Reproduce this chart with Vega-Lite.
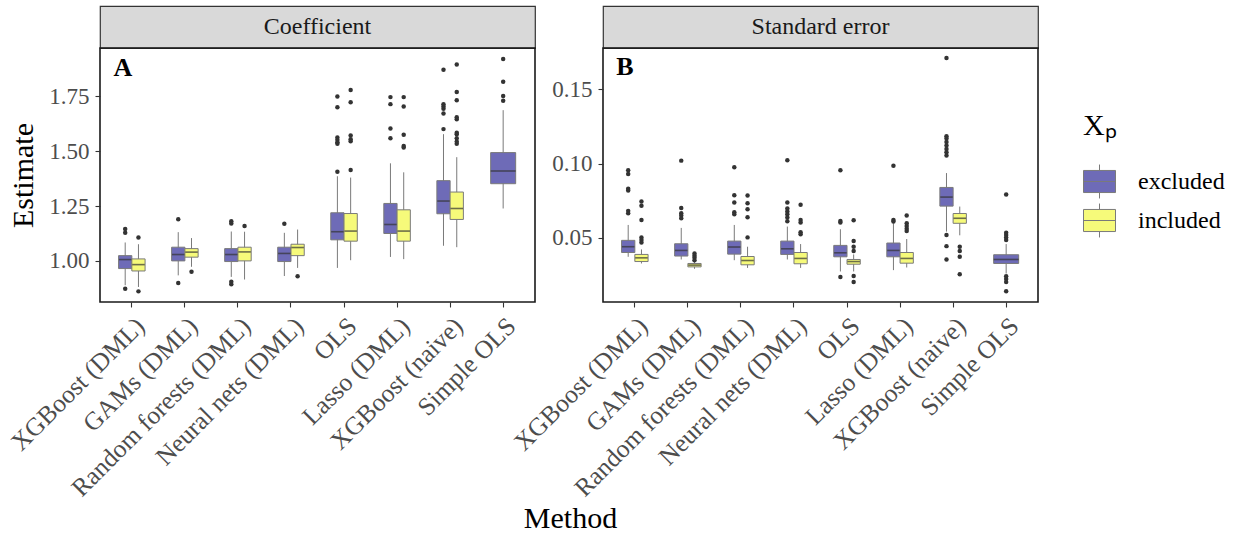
{
  "$schema": "https://vega.github.io/schema/vega-lite/v6.json",
  "background": "white",
  "padding": {"left": 5, "top": 5, "right": 5, "bottom": 5},
  "config": {
    "font": "Liberation Serif",
    "text": {"font": "Liberation Serif"},
    "view": {"stroke": "#1a1a1a", "strokeWidth": 1.6},
    "axis": {
      "domain": false, "grid": false, "tickColor": "#333333", "tickSize": 5, "tickWidth": 1.1,
      "labelColor": "#4d4d4d", "labelFont": "Liberation Serif", "labelFontSize": 23, "labelLimit": 0,
      "titleFont": "Liberation Serif", "titleFontSize": 30, "titleFontWeight": "normal", "titleColor": "#000000",
      "labelPadding": 6
    },
    "axisX": {"labelFontSize": 25.5},
    "legend": {
      "titleFont": "Liberation Serif", "titleFontSize": 30, "titleFontWeight": "normal",
      "labelFont": "Liberation Serif", "labelFontSize": 24, "labelColor": "#000000"
    }
  },
  "datasets": {
    "strips": [
      {"panel": "A", "label": "Coefficient"},
      {"panel": "B", "label": "Standard error"}
    ],
    "letters": [
      {"panel": "A", "label": "A", "method": "XGBoost (DML)", "y": 1.879},
      {"panel": "B", "label": "B", "method": "XGBoost (DML)", "y": 0.1655}
    ],
    "boxes": [
      {"panel": "A", "method": "XGBoost (DML)", "group": "excluded", "lower": 0.889, "q1": 0.965, "median": 1.006, "q3": 1.024, "upper": 1.084},
      {"panel": "A", "method": "XGBoost (DML)", "group": "included", "lower": 0.881, "q1": 0.954, "median": 0.983, "q3": 1.009, "upper": 1.076},
      {"panel": "A", "method": "GAMs (DML)", "group": "excluded", "lower": 0.934, "q1": 1.0, "median": 1.029, "q3": 1.0625, "upper": 1.131},
      {"panel": "A", "method": "GAMs (DML)", "group": "included", "lower": 0.973, "q1": 1.017, "median": 1.04, "q3": 1.056, "upper": 1.104},
      {"panel": "A", "method": "Random forests (DML)", "group": "excluded", "lower": 0.927, "q1": 0.997, "median": 1.029, "q3": 1.056, "upper": 1.134},
      {"panel": "A", "method": "Random forests (DML)", "group": "included", "lower": 0.915, "q1": 1.0, "median": 1.041, "q3": 1.0625, "upper": 1.133},
      {"panel": "A", "method": "Neural nets (DML)", "group": "excluded", "lower": 0.931, "q1": 0.997, "median": 1.034, "q3": 1.0625, "upper": 1.128},
      {"panel": "A", "method": "Neural nets (DML)", "group": "included", "lower": 0.968, "q1": 1.024, "median": 1.061, "q3": 1.076, "upper": 1.143},
      {"panel": "A", "method": "OLS", "group": "excluded", "lower": 0.968, "q1": 1.096, "median": 1.133, "q3": 1.2195, "upper": 1.386},
      {"panel": "A", "method": "OLS", "group": "included", "lower": 1.003, "q1": 1.09, "median": 1.136, "q3": 1.216, "upper": 1.38},
      {"panel": "A", "method": "Lasso (DML)", "group": "excluded", "lower": 1.018, "q1": 1.125, "median": 1.166, "q3": 1.262, "upper": 1.445},
      {"panel": "A", "method": "Lasso (DML)", "group": "included", "lower": 1.008, "q1": 1.09, "median": 1.136, "q3": 1.233, "upper": 1.404},
      {"panel": "A", "method": "XGBoost (naive)", "group": "excluded", "lower": 1.069, "q1": 1.215, "median": 1.273, "q3": 1.366, "upper": 1.578},
      {"panel": "A", "method": "XGBoost (naive)", "group": "included", "lower": 1.0625, "q1": 1.189, "median": 1.239, "q3": 1.314, "upper": 1.473},
      {"panel": "A", "method": "Simple OLS", "group": "excluded", "lower": 1.239, "q1": 1.352, "median": 1.41, "q3": 1.494, "upper": 1.6875},
      {"panel": "B", "method": "XGBoost (DML)", "group": "excluded", "lower": 0.0371, "q1": 0.04, "median": 0.0439, "q3": 0.0482, "upper": 0.0586},
      {"panel": "B", "method": "XGBoost (DML)", "group": "included", "lower": 0.0326, "q1": 0.0339, "median": 0.0364, "q3": 0.0387, "upper": 0.0421},
      {"panel": "B", "method": "GAMs (DML)", "group": "excluded", "lower": 0.0353, "q1": 0.0376, "median": 0.0414, "q3": 0.0459, "upper": 0.0566},
      {"panel": "B", "method": "GAMs (DML)", "group": "included", "lower": 0.029, "q1": 0.0303, "median": 0.0315, "q3": 0.0326, "upper": 0.0339},
      {"panel": "B", "method": "Random forests (DML)", "group": "excluded", "lower": 0.0348, "q1": 0.0389, "median": 0.0437, "q3": 0.0477, "upper": 0.0586},
      {"panel": "B", "method": "Random forests (DML)", "group": "included", "lower": 0.0296, "q1": 0.0317, "median": 0.0346, "q3": 0.0373, "upper": 0.0439},
      {"panel": "B", "method": "Neural nets (DML)", "group": "excluded", "lower": 0.0353, "q1": 0.0387, "median": 0.0425, "q3": 0.0477, "upper": 0.0575},
      {"panel": "B", "method": "Neural nets (DML)", "group": "included", "lower": 0.0296, "q1": 0.0324, "median": 0.036, "q3": 0.04, "upper": 0.0457},
      {"panel": "B", "method": "OLS", "group": "excluded", "lower": 0.0272, "q1": 0.0371, "median": 0.0398, "q3": 0.0448, "upper": 0.0557},
      {"panel": "B", "method": "OLS", "group": "included", "lower": 0.0272, "q1": 0.0321, "median": 0.0339, "q3": 0.0353, "upper": 0.0387},
      {"panel": "B", "method": "Lasso (DML)", "group": "excluded", "lower": 0.0281, "q1": 0.0371, "median": 0.0414, "q3": 0.0464, "upper": 0.0597},
      {"panel": "B", "method": "Lasso (DML)", "group": "included", "lower": 0.0299, "q1": 0.0328, "median": 0.036, "q3": 0.04, "upper": 0.0491},
      {"panel": "B", "method": "XGBoost (naive)", "group": "excluded", "lower": 0.0541, "q1": 0.0713, "median": 0.0774, "q3": 0.0839, "upper": 0.0936},
      {"panel": "B", "method": "XGBoost (naive)", "group": "included", "lower": 0.0516, "q1": 0.0597, "median": 0.0631, "q3": 0.0663, "upper": 0.071},
      {"panel": "B", "method": "Simple OLS", "group": "excluded", "lower": 0.0258, "q1": 0.0326, "median": 0.0353, "q3": 0.0385, "upper": 0.0457}
    ],
    "outliers": [
      {"panel": "A", "method": "XGBoost (DML)", "group": "excluded", "value": 1.145},
      {"panel": "A", "method": "XGBoost (DML)", "group": "excluded", "value": 1.128},
      {"panel": "A", "method": "XGBoost (DML)", "group": "excluded", "value": 0.873},
      {"panel": "A", "method": "XGBoost (DML)", "group": "included", "value": 1.107},
      {"panel": "A", "method": "XGBoost (DML)", "group": "included", "value": 0.861},
      {"panel": "A", "method": "GAMs (DML)", "group": "excluded", "value": 1.19},
      {"panel": "A", "method": "GAMs (DML)", "group": "excluded", "value": 0.899},
      {"panel": "A", "method": "GAMs (DML)", "group": "included", "value": 0.95},
      {"panel": "A", "method": "Random forests (DML)", "group": "excluded", "value": 1.181},
      {"panel": "A", "method": "Random forests (DML)", "group": "excluded", "value": 1.171},
      {"panel": "A", "method": "Random forests (DML)", "group": "excluded", "value": 0.905},
      {"panel": "A", "method": "Random forests (DML)", "group": "excluded", "value": 0.893},
      {"panel": "A", "method": "Random forests (DML)", "group": "included", "value": 1.159},
      {"panel": "A", "method": "Neural nets (DML)", "group": "excluded", "value": 1.169},
      {"panel": "A", "method": "Neural nets (DML)", "group": "included", "value": 0.93},
      {"panel": "A", "method": "OLS", "group": "excluded", "value": 1.407},
      {"panel": "A", "method": "OLS", "group": "excluded", "value": 1.5625},
      {"panel": "A", "method": "OLS", "group": "excluded", "value": 1.552},
      {"panel": "A", "method": "OLS", "group": "excluded", "value": 1.541},
      {"panel": "A", "method": "OLS", "group": "excluded", "value": 1.534},
      {"panel": "A", "method": "OLS", "group": "excluded", "value": 1.701},
      {"panel": "A", "method": "OLS", "group": "excluded", "value": 1.75},
      {"panel": "A", "method": "OLS", "group": "included", "value": 1.415},
      {"panel": "A", "method": "OLS", "group": "included", "value": 1.572},
      {"panel": "A", "method": "OLS", "group": "included", "value": 1.555},
      {"panel": "A", "method": "OLS", "group": "included", "value": 1.546},
      {"panel": "A", "method": "OLS", "group": "included", "value": 1.724},
      {"panel": "A", "method": "OLS", "group": "included", "value": 1.779},
      {"panel": "A", "method": "Lasso (DML)", "group": "excluded", "value": 1.559},
      {"panel": "A", "method": "Lasso (DML)", "group": "excluded", "value": 1.604},
      {"panel": "A", "method": "Lasso (DML)", "group": "excluded", "value": 1.715},
      {"panel": "A", "method": "Lasso (DML)", "group": "excluded", "value": 1.747},
      {"panel": "A", "method": "Lasso (DML)", "group": "included", "value": 1.524},
      {"panel": "A", "method": "Lasso (DML)", "group": "included", "value": 1.517},
      {"panel": "A", "method": "Lasso (DML)", "group": "included", "value": 1.575},
      {"panel": "A", "method": "Lasso (DML)", "group": "included", "value": 1.704},
      {"panel": "A", "method": "Lasso (DML)", "group": "included", "value": 1.747},
      {"panel": "A", "method": "XGBoost (naive)", "group": "excluded", "value": 1.601},
      {"panel": "A", "method": "XGBoost (naive)", "group": "excluded", "value": 1.672},
      {"panel": "A", "method": "XGBoost (naive)", "group": "excluded", "value": 1.694},
      {"panel": "A", "method": "XGBoost (naive)", "group": "excluded", "value": 1.704},
      {"panel": "A", "method": "XGBoost (naive)", "group": "excluded", "value": 1.715},
      {"panel": "A", "method": "XGBoost (naive)", "group": "excluded", "value": 1.872},
      {"panel": "A", "method": "XGBoost (naive)", "group": "included", "value": 1.534},
      {"panel": "A", "method": "XGBoost (naive)", "group": "included", "value": 1.544},
      {"panel": "A", "method": "XGBoost (naive)", "group": "included", "value": 1.559},
      {"panel": "A", "method": "XGBoost (naive)", "group": "included", "value": 1.578},
      {"panel": "A", "method": "XGBoost (naive)", "group": "included", "value": 1.585},
      {"panel": "A", "method": "XGBoost (naive)", "group": "included", "value": 1.646},
      {"panel": "A", "method": "XGBoost (naive)", "group": "included", "value": 1.655},
      {"panel": "A", "method": "XGBoost (naive)", "group": "included", "value": 1.733},
      {"panel": "A", "method": "XGBoost (naive)", "group": "included", "value": 1.77},
      {"panel": "A", "method": "XGBoost (naive)", "group": "included", "value": 1.896},
      {"panel": "A", "method": "Simple OLS", "group": "excluded", "value": 1.73},
      {"panel": "A", "method": "Simple OLS", "group": "excluded", "value": 1.752},
      {"panel": "A", "method": "Simple OLS", "group": "excluded", "value": 1.817},
      {"panel": "A", "method": "Simple OLS", "group": "excluded", "value": 1.921},
      {"panel": "B", "method": "XGBoost (DML)", "group": "excluded", "value": 0.0955},
      {"panel": "B", "method": "XGBoost (DML)", "group": "excluded", "value": 0.093},
      {"panel": "B", "method": "XGBoost (DML)", "group": "excluded", "value": 0.083},
      {"panel": "B", "method": "XGBoost (DML)", "group": "excluded", "value": 0.0819},
      {"panel": "B", "method": "XGBoost (DML)", "group": "excluded", "value": 0.0681},
      {"panel": "B", "method": "XGBoost (DML)", "group": "excluded", "value": 0.0665},
      {"panel": "B", "method": "XGBoost (DML)", "group": "included", "value": 0.0744},
      {"panel": "B", "method": "XGBoost (DML)", "group": "included", "value": 0.0715},
      {"panel": "B", "method": "XGBoost (DML)", "group": "included", "value": 0.062},
      {"panel": "B", "method": "XGBoost (DML)", "group": "included", "value": 0.0502},
      {"panel": "B", "method": "XGBoost (DML)", "group": "included", "value": 0.0484},
      {"panel": "B", "method": "XGBoost (DML)", "group": "included", "value": 0.0468},
      {"panel": "B", "method": "GAMs (DML)", "group": "excluded", "value": 0.102},
      {"panel": "B", "method": "GAMs (DML)", "group": "excluded", "value": 0.0701},
      {"panel": "B", "method": "GAMs (DML)", "group": "excluded", "value": 0.0665},
      {"panel": "B", "method": "GAMs (DML)", "group": "excluded", "value": 0.0649},
      {"panel": "B", "method": "GAMs (DML)", "group": "excluded", "value": 0.0631},
      {"panel": "B", "method": "GAMs (DML)", "group": "included", "value": 0.0394},
      {"panel": "B", "method": "GAMs (DML)", "group": "included", "value": 0.0378},
      {"panel": "B", "method": "GAMs (DML)", "group": "included", "value": 0.0364},
      {"panel": "B", "method": "GAMs (DML)", "group": "included", "value": 0.0348},
      {"panel": "B", "method": "Random forests (DML)", "group": "excluded", "value": 0.0975},
      {"panel": "B", "method": "Random forests (DML)", "group": "excluded", "value": 0.0787},
      {"panel": "B", "method": "Random forests (DML)", "group": "excluded", "value": 0.0737},
      {"panel": "B", "method": "Random forests (DML)", "group": "excluded", "value": 0.0672},
      {"panel": "B", "method": "Random forests (DML)", "group": "excluded", "value": 0.0658},
      {"panel": "B", "method": "Random forests (DML)", "group": "included", "value": 0.0785},
      {"panel": "B", "method": "Random forests (DML)", "group": "included", "value": 0.0733},
      {"panel": "B", "method": "Random forests (DML)", "group": "included", "value": 0.0692},
      {"panel": "B", "method": "Random forests (DML)", "group": "included", "value": 0.0638},
      {"panel": "B", "method": "Random forests (DML)", "group": "included", "value": 0.0502},
      {"panel": "B", "method": "Neural nets (DML)", "group": "excluded", "value": 0.1022},
      {"panel": "B", "method": "Neural nets (DML)", "group": "excluded", "value": 0.0737},
      {"panel": "B", "method": "Neural nets (DML)", "group": "excluded", "value": 0.0697},
      {"panel": "B", "method": "Neural nets (DML)", "group": "excluded", "value": 0.0676},
      {"panel": "B", "method": "Neural nets (DML)", "group": "excluded", "value": 0.0658},
      {"panel": "B", "method": "Neural nets (DML)", "group": "excluded", "value": 0.0636},
      {"panel": "B", "method": "Neural nets (DML)", "group": "excluded", "value": 0.0611},
      {"panel": "B", "method": "Neural nets (DML)", "group": "included", "value": 0.0722},
      {"panel": "B", "method": "Neural nets (DML)", "group": "included", "value": 0.062},
      {"panel": "B", "method": "Neural nets (DML)", "group": "included", "value": 0.0602},
      {"panel": "B", "method": "Neural nets (DML)", "group": "included", "value": 0.0536},
      {"panel": "B", "method": "Neural nets (DML)", "group": "included", "value": 0.0523},
      {"panel": "B", "method": "OLS", "group": "excluded", "value": 0.0955},
      {"panel": "B", "method": "OLS", "group": "excluded", "value": 0.0613},
      {"panel": "B", "method": "OLS", "group": "excluded", "value": 0.0602},
      {"panel": "B", "method": "OLS", "group": "excluded", "value": 0.0235},
      {"panel": "B", "method": "OLS", "group": "included", "value": 0.0618},
      {"panel": "B", "method": "OLS", "group": "included", "value": 0.0477},
      {"panel": "B", "method": "OLS", "group": "included", "value": 0.0439},
      {"panel": "B", "method": "OLS", "group": "included", "value": 0.041},
      {"panel": "B", "method": "OLS", "group": "included", "value": 0.0242},
      {"panel": "B", "method": "OLS", "group": "included", "value": 0.0201},
      {"panel": "B", "method": "Lasso (DML)", "group": "excluded", "value": 0.0986},
      {"panel": "B", "method": "Lasso (DML)", "group": "excluded", "value": 0.062},
      {"panel": "B", "method": "Lasso (DML)", "group": "excluded", "value": 0.0609},
      {"panel": "B", "method": "Lasso (DML)", "group": "included", "value": 0.0649},
      {"panel": "B", "method": "Lasso (DML)", "group": "included", "value": 0.0597},
      {"panel": "B", "method": "Lasso (DML)", "group": "included", "value": 0.0579},
      {"panel": "B", "method": "Lasso (DML)", "group": "included", "value": 0.0561},
      {"panel": "B", "method": "Lasso (DML)", "group": "included", "value": 0.0545},
      {"panel": "B", "method": "XGBoost (naive)", "group": "excluded", "value": 0.1712},
      {"panel": "B", "method": "XGBoost (naive)", "group": "excluded", "value": 0.1185},
      {"panel": "B", "method": "XGBoost (naive)", "group": "excluded", "value": 0.1169},
      {"panel": "B", "method": "XGBoost (naive)", "group": "excluded", "value": 0.1145},
      {"panel": "B", "method": "XGBoost (naive)", "group": "excluded", "value": 0.1122},
      {"panel": "B", "method": "XGBoost (naive)", "group": "excluded", "value": 0.1099},
      {"panel": "B", "method": "XGBoost (naive)", "group": "excluded", "value": 0.1077},
      {"panel": "B", "method": "XGBoost (naive)", "group": "excluded", "value": 0.1054},
      {"panel": "B", "method": "XGBoost (naive)", "group": "excluded", "value": 0.0518},
      {"panel": "B", "method": "XGBoost (naive)", "group": "excluded", "value": 0.0443},
      {"panel": "B", "method": "XGBoost (naive)", "group": "excluded", "value": 0.0353},
      {"panel": "B", "method": "XGBoost (naive)", "group": "included", "value": 0.0439},
      {"panel": "B", "method": "XGBoost (naive)", "group": "included", "value": 0.041},
      {"panel": "B", "method": "XGBoost (naive)", "group": "included", "value": 0.0371},
      {"panel": "B", "method": "XGBoost (naive)", "group": "included", "value": 0.0254},
      {"panel": "B", "method": "Simple OLS", "group": "excluded", "value": 0.0792},
      {"panel": "B", "method": "Simple OLS", "group": "excluded", "value": 0.0534},
      {"panel": "B", "method": "Simple OLS", "group": "excluded", "value": 0.0518},
      {"panel": "B", "method": "Simple OLS", "group": "excluded", "value": 0.0502},
      {"panel": "B", "method": "Simple OLS", "group": "excluded", "value": 0.0484},
      {"panel": "B", "method": "Simple OLS", "group": "excluded", "value": 0.024},
      {"panel": "B", "method": "Simple OLS", "group": "excluded", "value": 0.0222},
      {"panel": "B", "method": "Simple OLS", "group": "excluded", "value": 0.0201},
      {"panel": "B", "method": "Simple OLS", "group": "excluded", "value": 0.0138}
    ]
  },
  "columns": 2,
  "spacing": {"column": 68, "row": 0},
  "bounds": "flush",
  "concat": [
    {
      "width": 435, "height": 42,
      "view": {"fill": "#d9d9d9", "stroke": "#333333", "strokeWidth": 1.2},
      "data": {"name": "strips"},
      "transform": [{"filter": "datum.panel === 'A'"}],
      "mark": {"type": "text", "fontSize": 24, "color": "#1a1a1a", "font": "Liberation Serif"},
      "encoding": {"text": {"field": "label", "type": "nominal"}}
    },
    {
      "width": 435, "height": 42,
      "view": {"fill": "#d9d9d9", "stroke": "#333333", "strokeWidth": 1.2},
      "data": {"name": "strips"},
      "transform": [{"filter": "datum.panel === 'B'"}],
      "mark": {"type": "text", "fontSize": 24, "color": "#1a1a1a", "font": "Liberation Serif"},
      "encoding": {"text": {"field": "label", "type": "nominal"}}
    },
    {
      "width": 435, "height": 254,
      "layer": [
        {
          "data": {"name": "boxes"},
          "transform": [{"filter": "datum.panel === 'A' && datum.method !== 'Simple OLS'"}],
          "mark": {"type": "rule", "color": "#7a7a7a", "strokeWidth": 1},
          "encoding": {
            "x": {"field": "method", "type": "nominal", "sort": ["XGBoost (DML)", "GAMs (DML)", "Random forests (DML)", "Neural nets (DML)", "OLS", "Lasso (DML)", "XGBoost (naive)", "Simple OLS"], "scale": {"paddingInner": 0, "paddingOuter": 0.1}, "title": "Method", "axis": {"labelAngle": -45, "titleX": 470, "titlePadding": 2}},
            "xOffset": {"field": "group", "type": "nominal", "scale": {"domain": ["excluded", "included"], "paddingInner": 0, "paddingOuter": 1.122}},
            "y": {"field": "lower", "type": "quantitative", "title": "Estimate", "scale": {"domain": [0.8125, 1.971], "nice": false, "zero": false}, "axis": {"values": [1, 1.25, 1.5, 1.75], "format": ".2f", "titlePadding": 10}},
            "y2": {"field": "upper"}
          }
        },
        {
          "data": {"name": "boxes"},
          "transform": [{"filter": "datum.panel === 'A' && datum.method !== 'Simple OLS'"}],
          "mark": {"type": "bar", "stroke": "#7a7a7a", "strokeWidth": 1},
          "encoding": {
            "x": {"field": "method", "type": "nominal", "sort": ["XGBoost (DML)", "GAMs (DML)", "Random forests (DML)", "Neural nets (DML)", "OLS", "Lasso (DML)", "XGBoost (naive)", "Simple OLS"], "title": "Method"},
            "xOffset": {"field": "group", "type": "nominal"},
            "y": {"field": "q1", "type": "quantitative", "title": "Estimate"},
            "y2": {"field": "q3"},
            "fill": {"field": "group", "type": "nominal", "scale": {"domain": ["excluded", "included"], "range": ["#6E6BB7", "#F6FA7A"]}, "legend": {"title": "Xₚ", "orient": "none", "legendX": 983, "legendY": 105, "symbolType": "M-1,-0.69H1V0.69H-1Z M-1,0H1 M0,-0.69V-1.06 M0,0.69V1.06", "symbolSize": 1024, "symbolStrokeColor": "#7a7a7a", "symbolStrokeWidth": 1, "symbolOpacity": 1, "rowPadding": 0, "labelOffset": 22, "titlePadding": 24, "padding": 0}}
          }
        },
        {
          "data": {"name": "boxes"},
          "transform": [{"filter": "datum.panel === 'A' && datum.method !== 'Simple OLS'"}],
          "mark": {"type": "tick", "color": "#333333", "thickness": 1.6, "size": 12.5},
          "encoding": {
            "x": {"field": "method", "type": "nominal", "sort": ["XGBoost (DML)", "GAMs (DML)", "Random forests (DML)", "Neural nets (DML)", "OLS", "Lasso (DML)", "XGBoost (naive)", "Simple OLS"], "title": "Method"},
            "xOffset": {"field": "group", "type": "nominal"},
            "y": {"field": "median", "type": "quantitative", "title": "Estimate"}
          }
        },
        {
          "data": {"name": "outliers"},
          "transform": [{"filter": "datum.panel === 'A' && datum.method !== 'Simple OLS'"}],
          "mark": {"type": "point", "filled": true, "color": "#333333", "opacity": 1, "size": 20},
          "encoding": {
            "x": {"field": "method", "type": "nominal", "sort": ["XGBoost (DML)", "GAMs (DML)", "Random forests (DML)", "Neural nets (DML)", "OLS", "Lasso (DML)", "XGBoost (naive)", "Simple OLS"], "title": "Method"},
            "xOffset": {"field": "group", "type": "nominal"},
            "y": {"field": "value", "type": "quantitative", "title": "Estimate"}
          }
        },
        {
          "data": {"name": "boxes"},
          "transform": [{"filter": "datum.panel === 'A' && datum.method === 'Simple OLS'"}],
          "mark": {"type": "rule", "color": "#7a7a7a", "strokeWidth": 1},
          "encoding": {
            "x": {"field": "method", "type": "nominal", "sort": ["XGBoost (DML)", "GAMs (DML)", "Random forests (DML)", "Neural nets (DML)", "OLS", "Lasso (DML)", "XGBoost (naive)", "Simple OLS"], "title": "Method"},
            "y": {"field": "lower", "type": "quantitative", "title": "Estimate"},
            "y2": {"field": "upper"}
          }
        },
        {
          "data": {"name": "boxes"},
          "transform": [{"filter": "datum.panel === 'A' && datum.method === 'Simple OLS'"}],
          "mark": {"type": "bar", "stroke": "#7a7a7a", "strokeWidth": 1, "size": 25},
          "encoding": {
            "x": {"field": "method", "type": "nominal", "sort": ["XGBoost (DML)", "GAMs (DML)", "Random forests (DML)", "Neural nets (DML)", "OLS", "Lasso (DML)", "XGBoost (naive)", "Simple OLS"], "title": "Method"},
            "y": {"field": "q1", "type": "quantitative", "title": "Estimate"},
            "y2": {"field": "q3"},
            "fill": {"field": "group", "type": "nominal"}
          }
        },
        {
          "data": {"name": "boxes"},
          "transform": [{"filter": "datum.panel === 'A' && datum.method === 'Simple OLS'"}],
          "mark": {"type": "tick", "color": "#333333", "thickness": 1.6, "size": 25},
          "encoding": {
            "x": {"field": "method", "type": "nominal", "sort": ["XGBoost (DML)", "GAMs (DML)", "Random forests (DML)", "Neural nets (DML)", "OLS", "Lasso (DML)", "XGBoost (naive)", "Simple OLS"], "title": "Method"},
            "y": {"field": "median", "type": "quantitative", "title": "Estimate"}
          }
        },
        {
          "data": {"name": "outliers"},
          "transform": [{"filter": "datum.panel === 'A' && datum.method === 'Simple OLS'"}],
          "mark": {"type": "point", "filled": true, "color": "#333333", "opacity": 1, "size": 20},
          "encoding": {
            "x": {"field": "method", "type": "nominal", "sort": ["XGBoost (DML)", "GAMs (DML)", "Random forests (DML)", "Neural nets (DML)", "OLS", "Lasso (DML)", "XGBoost (naive)", "Simple OLS"], "title": "Method"},
            "y": {"field": "value", "type": "quantitative", "title": "Estimate"}
          }
        },
        {
          "mark": {"type": "rule", "color": "#000000", "strokeWidth": 1.4, "strokeDash": [6, 4]},
          "encoding": {"y": {"datum": 1, "type": "quantitative"}}
        },
        {
          "data": {"name": "letters"},
          "transform": [{"filter": "datum.panel === 'A'"}],
          "mark": {"type": "text", "fontSize": 26, "fontWeight": "bold", "color": "#000000", "dx": -9, "font": "Liberation Serif"},
          "encoding": {
            "x": {"field": "method", "type": "nominal", "sort": ["XGBoost (DML)", "GAMs (DML)", "Random forests (DML)", "Neural nets (DML)", "OLS", "Lasso (DML)", "XGBoost (naive)", "Simple OLS"], "title": "Method"},
            "y": {"field": "y", "type": "quantitative", "title": "Estimate"},
            "text": {"field": "label", "type": "nominal"}
          }
        }
      ]
    },
    {
      "width": 435, "height": 254,
      "layer": [
        {
          "data": {"name": "boxes"},
          "transform": [{"filter": "datum.panel === 'B' && datum.method !== 'Simple OLS'"}],
          "mark": {"type": "rule", "color": "#7a7a7a", "strokeWidth": 1},
          "encoding": {
            "x": {"field": "method", "type": "nominal", "sort": ["XGBoost (DML)", "GAMs (DML)", "Random forests (DML)", "Neural nets (DML)", "OLS", "Lasso (DML)", "XGBoost (naive)", "Simple OLS"], "scale": {"paddingInner": 0, "paddingOuter": 0.1}, "title": null, "axis": {"labelAngle": -45, "title": null}},
            "xOffset": {"field": "group", "type": "nominal", "scale": {"domain": ["excluded", "included"], "paddingInner": 0, "paddingOuter": 1.122}},
            "y": {"field": "lower", "type": "quantitative", "title": null, "scale": {"domain": [0.0066, 0.178], "nice": false, "zero": false}, "axis": {"values": [0.05, 0.1, 0.15], "format": ".2f", "title": null}},
            "y2": {"field": "upper"}
          }
        },
        {
          "data": {"name": "boxes"},
          "transform": [{"filter": "datum.panel === 'B' && datum.method !== 'Simple OLS'"}],
          "mark": {"type": "bar", "stroke": "#7a7a7a", "strokeWidth": 1},
          "encoding": {
            "x": {"field": "method", "type": "nominal", "sort": ["XGBoost (DML)", "GAMs (DML)", "Random forests (DML)", "Neural nets (DML)", "OLS", "Lasso (DML)", "XGBoost (naive)", "Simple OLS"], "title": null},
            "xOffset": {"field": "group", "type": "nominal"},
            "y": {"field": "q1", "type": "quantitative", "title": null},
            "y2": {"field": "q3"},
            "fill": {"field": "group", "type": "nominal"}
          }
        },
        {
          "data": {"name": "boxes"},
          "transform": [{"filter": "datum.panel === 'B' && datum.method !== 'Simple OLS'"}],
          "mark": {"type": "tick", "color": "#333333", "thickness": 1.6, "size": 12.5},
          "encoding": {
            "x": {"field": "method", "type": "nominal", "sort": ["XGBoost (DML)", "GAMs (DML)", "Random forests (DML)", "Neural nets (DML)", "OLS", "Lasso (DML)", "XGBoost (naive)", "Simple OLS"], "title": null},
            "xOffset": {"field": "group", "type": "nominal"},
            "y": {"field": "median", "type": "quantitative", "title": null}
          }
        },
        {
          "data": {"name": "outliers"},
          "transform": [{"filter": "datum.panel === 'B' && datum.method !== 'Simple OLS'"}],
          "mark": {"type": "point", "filled": true, "color": "#333333", "opacity": 1, "size": 20},
          "encoding": {
            "x": {"field": "method", "type": "nominal", "sort": ["XGBoost (DML)", "GAMs (DML)", "Random forests (DML)", "Neural nets (DML)", "OLS", "Lasso (DML)", "XGBoost (naive)", "Simple OLS"], "title": null},
            "xOffset": {"field": "group", "type": "nominal"},
            "y": {"field": "value", "type": "quantitative", "title": null}
          }
        },
        {
          "data": {"name": "boxes"},
          "transform": [{"filter": "datum.panel === 'B' && datum.method === 'Simple OLS'"}],
          "mark": {"type": "rule", "color": "#7a7a7a", "strokeWidth": 1},
          "encoding": {
            "x": {"field": "method", "type": "nominal", "sort": ["XGBoost (DML)", "GAMs (DML)", "Random forests (DML)", "Neural nets (DML)", "OLS", "Lasso (DML)", "XGBoost (naive)", "Simple OLS"], "title": null},
            "y": {"field": "lower", "type": "quantitative", "title": null},
            "y2": {"field": "upper"}
          }
        },
        {
          "data": {"name": "boxes"},
          "transform": [{"filter": "datum.panel === 'B' && datum.method === 'Simple OLS'"}],
          "mark": {"type": "bar", "stroke": "#7a7a7a", "strokeWidth": 1, "size": 25},
          "encoding": {
            "x": {"field": "method", "type": "nominal", "sort": ["XGBoost (DML)", "GAMs (DML)", "Random forests (DML)", "Neural nets (DML)", "OLS", "Lasso (DML)", "XGBoost (naive)", "Simple OLS"], "title": null},
            "y": {"field": "q1", "type": "quantitative", "title": null},
            "y2": {"field": "q3"},
            "fill": {"field": "group", "type": "nominal"}
          }
        },
        {
          "data": {"name": "boxes"},
          "transform": [{"filter": "datum.panel === 'B' && datum.method === 'Simple OLS'"}],
          "mark": {"type": "tick", "color": "#333333", "thickness": 1.6, "size": 25},
          "encoding": {
            "x": {"field": "method", "type": "nominal", "sort": ["XGBoost (DML)", "GAMs (DML)", "Random forests (DML)", "Neural nets (DML)", "OLS", "Lasso (DML)", "XGBoost (naive)", "Simple OLS"], "title": null},
            "y": {"field": "median", "type": "quantitative", "title": null}
          }
        },
        {
          "data": {"name": "outliers"},
          "transform": [{"filter": "datum.panel === 'B' && datum.method === 'Simple OLS'"}],
          "mark": {"type": "point", "filled": true, "color": "#333333", "opacity": 1, "size": 20},
          "encoding": {
            "x": {"field": "method", "type": "nominal", "sort": ["XGBoost (DML)", "GAMs (DML)", "Random forests (DML)", "Neural nets (DML)", "OLS", "Lasso (DML)", "XGBoost (naive)", "Simple OLS"], "title": null},
            "y": {"field": "value", "type": "quantitative", "title": null}
          }
        },
        {
          "data": {"name": "letters"},
          "transform": [{"filter": "datum.panel === 'B'"}],
          "mark": {"type": "text", "fontSize": 26, "fontWeight": "bold", "color": "#000000", "dx": -10, "font": "Liberation Serif"},
          "encoding": {
            "x": {"field": "method", "type": "nominal", "sort": ["XGBoost (DML)", "GAMs (DML)", "Random forests (DML)", "Neural nets (DML)", "OLS", "Lasso (DML)", "XGBoost (naive)", "Simple OLS"], "title": null},
            "y": {"field": "y", "type": "quantitative", "title": null},
            "text": {"field": "label", "type": "nominal"}
          }
        }
      ]
    }
  ]
}
